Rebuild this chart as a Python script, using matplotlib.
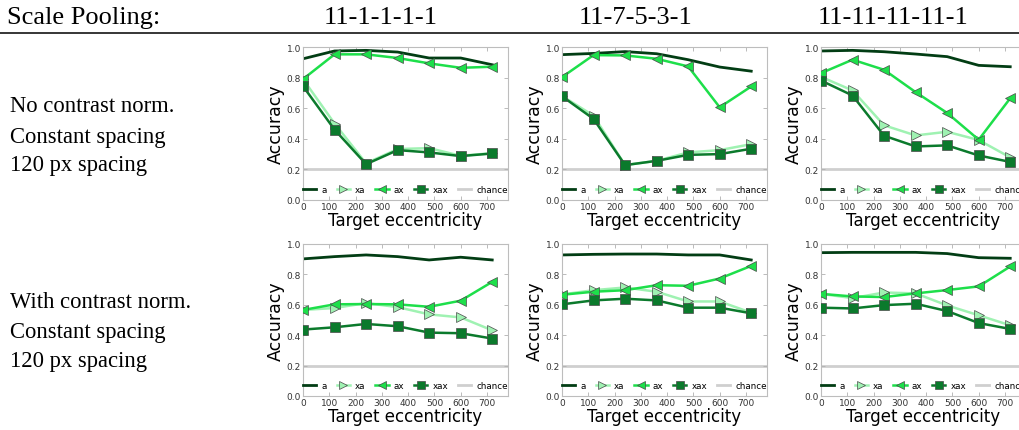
import matplotlib
matplotlib.use("Agg")
import matplotlib.pyplot as plt
from matplotlib.lines import Line2D

# ---------------- data ----------------
eccentricity = [0, 120, 240, 360, 480, 600, 720]
x_ticks = [0, 100, 200, 300, 400, 500, 600, 700]
y_ticks = [0.0, 0.2, 0.4, 0.6, 0.8, 1.0]
chance_level = 0.2

col_titles = ["11-1-1-1-1", "11-7-5-3-1", "11-11-11-11-1"]
header_label = "Scale Pooling:"
row_labels = [["No contrast norm.", "Constant spacing", "120 px spacing"],
              ["With contrast norm.", "Constant spacing", "120 px spacing"]]
series_names = ["a", "xa", "ax", "xax", "chance"]

# panel order: row0 col0..2, row1 col0..2
acc_a = [
    [0.923, 0.974, 0.978, 0.967, 0.928, 0.928, 0.884],
    [0.950, 0.958, 0.970, 0.956, 0.917, 0.869, 0.842],
    [0.974, 0.978, 0.969, 0.954, 0.937, 0.880, 0.871],
    [0.902, 0.917, 0.928, 0.917, 0.895, 0.913, 0.895],
    [0.928, 0.932, 0.934, 0.934, 0.928, 0.928, 0.895],
    [0.943, 0.945, 0.945, 0.945, 0.937, 0.910, 0.906],
]
acc_xa = [
    [0.790, 0.500, 0.240, 0.333, 0.339, 0.289, 0.306],
    [0.680, 0.551, 0.228, 0.256, 0.311, 0.326, 0.365],
    [0.805, 0.716, 0.488, 0.422, 0.446, 0.392, 0.278],
    [0.566, 0.579, 0.611, 0.585, 0.537, 0.517, 0.432],
    [0.668, 0.696, 0.714, 0.686, 0.622, 0.622, 0.548],
    [0.672, 0.644, 0.681, 0.675, 0.596, 0.531, 0.465],
]
acc_ax = [
    [0.790, 0.952, 0.952, 0.928, 0.893, 0.864, 0.871],
    [0.803, 0.947, 0.945, 0.923, 0.873, 0.606, 0.742],
    [0.829, 0.917, 0.851, 0.705, 0.569, 0.394, 0.665],
    [0.566, 0.603, 0.605, 0.603, 0.587, 0.627, 0.751],
    [0.666, 0.686, 0.696, 0.729, 0.725, 0.773, 0.856],
    [0.672, 0.655, 0.651, 0.675, 0.697, 0.721, 0.852],
]
acc_xax = [
    [0.744, 0.460, 0.234, 0.326, 0.311, 0.287, 0.304],
    [0.678, 0.530, 0.228, 0.256, 0.295, 0.300, 0.335],
    [0.781, 0.683, 0.420, 0.350, 0.357, 0.291, 0.249],
    [0.437, 0.452, 0.474, 0.459, 0.417, 0.413, 0.378],
    [0.603, 0.629, 0.640, 0.629, 0.581, 0.581, 0.544],
    [0.581, 0.576, 0.598, 0.607, 0.559, 0.480, 0.441],
]

# ---------------- style ----------------
C_A = "#023d14"
C_XA = "#9ff2b2"
C_AX = "#1ddf4a"
C_XAX = "#0b7a2c"
C_CH = "#cfcfcf"
EDGE = "#4a4a4a"
SERIF = ["Liberation Serif", "DejaVu Serif"]

W, H = 1020, 431
fig = plt.figure(figsize=(W / 100, H / 100), dpi=100)

# header
fig.text(7 / W, 1 - 18 / H, header_label, family=SERIF, fontsize=19,
         ha="left", va="center")
col_centers = [381, 636, 893]
for cx, t in zip(col_centers, col_titles):
    fig.text(cx / W, 1 - 18 / H, t, family=SERIF, fontsize=19,
             ha="center", va="center")
fig.add_artist(Line2D([0, 1], [1 - 33.5 / H, 1 - 33.5 / H],
                      transform=fig.transFigure, color="black", lw=1.1))

# row labels
row_label_y = [[107, 137, 166], [303, 333, 362]]
for r in range(2):
    for yy, t in zip(row_label_y[r], row_labels[r]):
        fig.text(10 / W, 1 - yy / H, t, family=SERIF, fontsize=16.3,
                 ha="left", va="center")

# axes
lefts = [303, 562, 821]
tops = [48, 245]
bottoms = [201, 397]
aw = 205

for r in range(2):
    for c in range(3):
        i = r * 3 + c
        ax = fig.add_axes([lefts[c] / W, 1 - bottoms[r] / H,
                           aw / W, (bottoms[r] - tops[r]) / H])
        ax.axhline(chance_level, color=C_CH, lw=2, zorder=1,
                   label=series_names[4])
        ax.plot(eccentricity, acc_a[i], color=C_A, lw=2, zorder=2,
                label=series_names[0])
        ax.plot(eccentricity, acc_xa[i], color=C_XA, lw=1.8, marker=">",
                ms=7.5, mec=EDGE, mew=0.5, zorder=3, label=series_names[1])
        ax.plot(eccentricity, acc_ax[i], color=C_AX, lw=1.8, marker="<",
                ms=7.5, mec=EDGE, mew=0.5, zorder=4, label=series_names[2])
        ax.plot(eccentricity, acc_xax[i], color=C_XAX, lw=1.8, marker="s",
                ms=6.5, mec=EDGE, mew=0.5, zorder=5, label=series_names[3])
        ax.set_xlim(0, 780)
        ax.set_ylim(0, 1)
        ax.set_xticks(x_ticks)
        ax.set_yticks(y_ticks)
        ax.set_yticklabels([f"{v:.1f}" for v in y_ticks])
        ax.tick_params(direction="in", top=True, right=True, length=3,
                       width=0.6, color="#b0b0b0", labelsize=6.5,
                       labelcolor="#333333", pad=1.5)
        for s in ax.spines.values():
            s.set_color("#bdbdbd")
            s.set_linewidth(0.8)
        ax.set_ylabel("Accuracy", fontsize=12.5, labelpad=1)
        ax.set_xlabel("Target eccentricity", fontsize=12, labelpad=0)
        handles, labels = ax.get_legend_handles_labels()
        order = [1, 2, 3, 4, 0]
        ax.legend([handles[k] for k in order], [labels[k] for k in order],
                  ncol=5, loc="center left", mode="expand",
                  bbox_to_anchor=(0.0, 0.02, 1.0, 0.1), frameon=False,
                  fontsize=6.3, handlelength=1.5, handletextpad=0.6,
                  columnspacing=0.8, markerscale=0.8, borderaxespad=0,
                  borderpad=0)

fig.savefig("out.png", dpi=100)
